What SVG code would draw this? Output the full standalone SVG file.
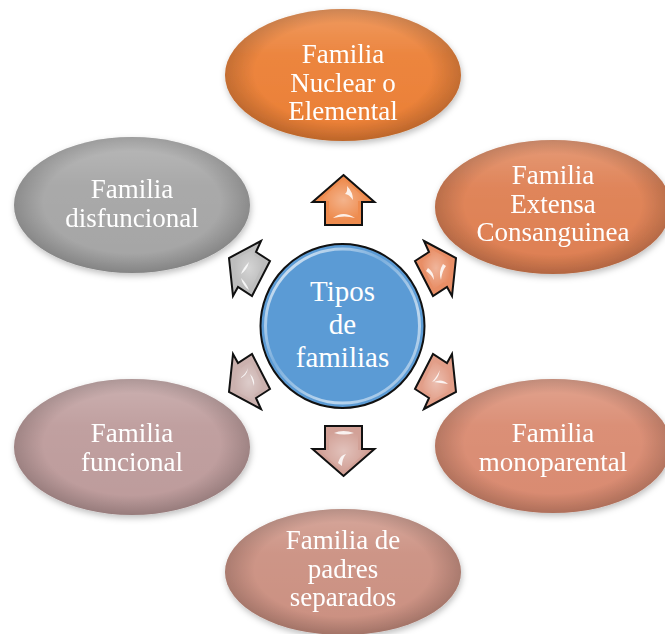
<svg xmlns="http://www.w3.org/2000/svg" width="665" height="634" viewBox="0 0 665 634">
<style>
.lbl{font-family:"Liberation Serif","Times New Roman",serif;font-size:27px;fill:#fff;text-anchor:middle}
.clbl{font-family:"Liberation Serif","Times New Roman",serif;font-size:29px;fill:#fff;text-anchor:middle}
.arr{stroke:#111;stroke-width:2;stroke-linejoin:miter}
.shade{fill:url(#edge)}
.gloss{fill:url(#topLight)}
.hl{fill:#fff;opacity:.85}
</style>
<defs>
<filter id="sh" x="-10%" y="-10%" width="125%" height="130%">
<feDropShadow dx="1" dy="3" stdDeviation="3" flood-color="#000" flood-opacity="0.25"/>
</filter>
<radialGradient id="edge" cx="50%" cy="48%" r="52%">
<stop offset="0.72" stop-color="#000" stop-opacity="0"/>
<stop offset="1" stop-color="#000" stop-opacity="0.2"/>
</radialGradient>
<linearGradient id="topLight" x1="0" y1="0" x2="0" y2="1">
<stop offset="0" stop-color="#fff" stop-opacity="0.22"/>
<stop offset="0.35" stop-color="#fff" stop-opacity="0.05"/>
<stop offset="1" stop-color="#fff" stop-opacity="0"/>
</linearGradient>
<radialGradient id="arrGlow" cx="50%" cy="50%" r="50%">
<stop offset="0" stop-color="#fff" stop-opacity="0.35"/>
<stop offset="1" stop-color="#fff" stop-opacity="0"/>
</radialGradient>
<linearGradient id="ring" x1="0" y1="0" x2="1" y2="1">
<stop offset="0" stop-color="#fff" stop-opacity="0.9"/>
<stop offset="0.4" stop-color="#fff" stop-opacity="0.2"/>
<stop offset="0.7" stop-color="#fff" stop-opacity="0.6"/>
<stop offset="1" stop-color="#fff" stop-opacity="0.3"/>
</linearGradient>
</defs>

<g id="connectors">
<g id="arrow-top">
<polygon class="arr" fill="#EE8B4E" points="343.5,175 374.5,202 362,202 362,225 325,225 325,202 312.5,202"/>
<polygon fill="url(#arrGlow)" points="343.5,179 368,201 358,201 358,221 329,221 329,201 319,201"/>
<path class="hl" d="M347,186 q6,6 6,14 q-4,-6 -8,-6 q3,-3 2,-8z"/>
<path class="hl" d="M333,218 q10,-8 22,0 q-10,-3 -22,0z"/>
</g>
<g id="arrow-ur">
<polygon class="arr" fill="#E88E66" points="424,241 456,258 452,296 447,287 433,296 415,261 429,252"/>
<polygon fill="url(#arrGlow)" points="427,247 451,260 448,288 444,282 434,289 421,262 431,255"/>
<path class="hl" d="M428,268 q6,4 6,12 q-3,-6 -8,-9z"/>
<path class="hl" d="M443,264 q-5,8 -2,16 q1,-9 5,-14z"/>
</g>
<g id="arrow-lr">
<polygon class="arr" fill="#E29E88" points="424,409 456,392 452,354 447,363 433,354 415,389 429,398"/>
<polygon fill="url(#arrGlow)" points="427,403 451,390 448,362 444,368 434,361 421,388 431,395"/>
<path class="hl" d="M440,370 q-4,8 -8,12 q6,-2 8,-12z"/>
<path class="hl" d="M434,382 q8,-4 14,2 q-8,-1 -14,-2z"/>
</g>
<g id="arrow-bottom">
<polygon class="arr" fill="#D2A197" points="343.5,476 374.5,449 362,449 362,426 325,426 325,449 312.5,449"/>
<polygon fill="url(#arrGlow)" points="343.5,472 368,450 358,450 358,430 329,430 329,450 319,450"/>
<path class="hl" d="M334,433 q9,-4 20,0 q-10,3 -20,0z"/>
<path class="hl" d="M338,463 q2,-8 8,-9 q-4,5 -4,12z"/>
</g>
<g id="arrow-ll">
<polygon class="arr" fill="#CBB1AE" points="261,409 229,392 233,354 238,363 252,354 270,389 256,398"/>
<polygon fill="url(#arrGlow)" points="258,403 234,390 237,362 241,368 251,361 264,388 254,395"/>
<path class="hl" d="M240,378 q6,-4 8,-10 q-1,8 -8,10z"/>
<path class="hl" d="M250,374 q5,5 4,12 q-2,-7 -4,-12z"/>
</g>
<g id="arrow-ul">
<polygon class="arr" fill="#BDBDBD" points="261,241 229,258 233,296 238,287 252,296 270,261 256,252"/>
<polygon fill="url(#arrGlow)" points="258,247 234,260 237,288 241,282 251,289 264,262 254,255"/>
<path class="hl" d="M249,262 q-6,6 -8,12 q6,-4 8,-12z"/>
<path class="hl" d="M241,278 q6,6 8,12 q-6,-4 -8,-12z"/>
</g>
</g>

<g id="node-center">
<circle cx="342.5" cy="326" r="82" fill="#5B9BD5" stroke="#111" stroke-width="2"/>
<circle cx="342.5" cy="326" r="77" fill="none" stroke="url(#ring)" stroke-width="3"/>
<text class="clbl" x="342.5" y="301">Tipos</text>
<text class="clbl" x="342.5" y="334">de</text>
<text class="clbl" x="342.5" y="367">familias</text>
</g>

<g id="node-nuclear" filter="url(#sh)">
<ellipse cx="343" cy="75" rx="118" ry="66" fill="#EB7F35"/>
<ellipse class="gloss" cx="343" cy="75" rx="118" ry="66"/>
<ellipse class="shade" cx="343" cy="75" rx="118" ry="66"/>
<text class="lbl" x="343" y="63">Familia</text>
<text class="lbl" x="343" y="92">Nuclear o</text>
<text class="lbl" x="343" y="120">Elemental</text>
</g>

<g id="node-extensa" filter="url(#sh)">
<ellipse cx="553" cy="207" rx="118" ry="67" fill="#DE7F52"/>
<ellipse class="gloss" cx="553" cy="207" rx="118" ry="67"/>
<ellipse class="shade" cx="553" cy="207" rx="118" ry="67"/>
<text class="lbl" x="553" y="184">Familia</text>
<text class="lbl" x="553" y="212.5">Extensa</text>
<text class="lbl" x="553" y="241">Consanguinea</text>
</g>

<g id="node-monoparental" filter="url(#sh)">
<ellipse cx="553" cy="446" rx="118" ry="67" fill="#D98A70"/>
<ellipse class="gloss" cx="553" cy="446" rx="118" ry="67"/>
<ellipse class="shade" cx="553" cy="446" rx="118" ry="67"/>
<text class="lbl" x="553" y="442">Familia</text>
<text class="lbl" x="553" y="471">monoparental</text>
</g>

<g id="node-separados" filter="url(#sh)">
<ellipse cx="343" cy="572" rx="118" ry="63" fill="#CB9081"/>
<ellipse class="gloss" cx="343" cy="572" rx="118" ry="63"/>
<ellipse class="shade" cx="343" cy="572" rx="118" ry="63"/>
<text class="lbl" x="343" y="549">Familia de</text>
<text class="lbl" x="343" y="577.5">padres</text>
<text class="lbl" x="343" y="606">separados</text>
</g>

<g id="node-funcional" filter="url(#sh)">
<ellipse cx="132" cy="447" rx="118" ry="68" fill="#BD9B9B"/>
<ellipse class="gloss" cx="132" cy="447" rx="118" ry="68"/>
<ellipse class="shade" cx="132" cy="447" rx="118" ry="68"/>
<text class="lbl" x="132" y="442">Familia</text>
<text class="lbl" x="132" y="471">funcional</text>
</g>

<g id="node-disfuncional" filter="url(#sh)">
<ellipse cx="132" cy="205" rx="118" ry="68" fill="#A5A5A5"/>
<ellipse class="gloss" cx="132" cy="205" rx="118" ry="68"/>
<ellipse class="shade" cx="132" cy="205" rx="118" ry="68"/>
<text class="lbl" x="132" y="198">Familia</text>
<text class="lbl" x="132" y="227">disfuncional</text>
</g>
</svg>
